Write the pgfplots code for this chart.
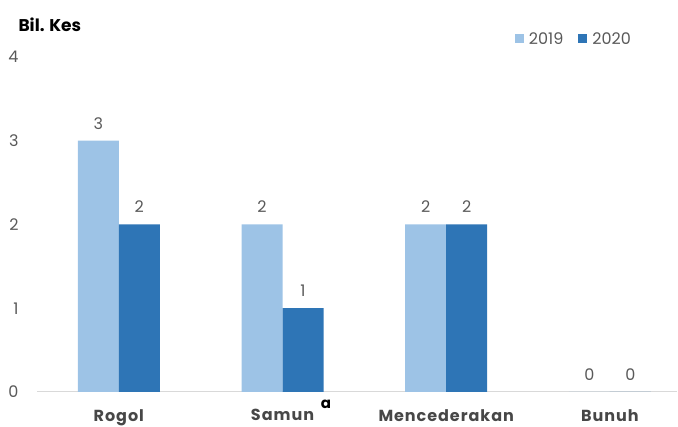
\documentclass[border=0pt]{standalone}
\usepackage{pgfplots}
\pgfplotsset{compat=1.18}
\usepackage{fontspec}
\setmainfont{Poppins}
\definecolor{c19}{HTML}{9DC3E6}
\definecolor{c20}{HTML}{2E75B6}
\definecolor{tgray}{HTML}{595959}
\definecolor{lgray}{HTML}{D9D9D9}
\begin{document}
\begin{tikzpicture}[x=1pt,y=1pt]
\useasboundingbox (0,0) rectangle (678,427);
\begin{axis}[
  at={(37pt,35pt)}, anchor=south west,
  scale only axis, width=640pt, height=335pt,
  ybar=0pt, bar width=41pt,
  xmin=-0.5, xmax=3.41, ymin=0, ymax=4,
  xtick=data, xticklabels={Rogol,Samun,Mencederakan,Bunuh},
  ytick={0,1,2,3,4},
  major tick length=0pt,
  axis x line*=bottom,
  x axis line style={draw=lgray, line width=1pt},
  y axis line style={draw=none},
  /pgf/number format/assume math mode=true,
  yticklabel style={font=\fontsize{16}{18}\selectfont, text=tgray, xshift=-15pt},
  xticklabel style={font=\fontsize{16}{18}\selectfont\bfseries\addfontfeature{LetterSpace=6}, text=tgray!80!black, inner sep=1pt, yshift=-16pt},
  nodes near coords,
  nodes near coords style={font=\fontsize{16}{18}\selectfont, text=tgray, yshift=8pt},
  legend style={at={(0.936,1.054)}, anchor=east, draw=none, fill=none,
    legend columns=2, font=\fontsize{16}{18}\selectfont, text=tgray,
    /tikz/every odd column/.append style={column sep=3pt},
    /tikz/every even column/.append style={column sep=13pt}},
  legend image code/.code={\fill[#1] (0pt,-4.5pt) rectangle (9pt,4.5pt);},
]
\addplot[draw=none, fill=c19] coordinates {(0,3) (1,2) (2,2) (3,0)};
\addlegendentry{2019}
\addplot[draw=none, fill=c20] coordinates {(0,2) (1,1) (2,2) (3,0)};
\addlegendentry{2020}
\end{axis}
\node[anchor=west, font=\fontsize{17}{19}\selectfont\bfseries] at (15,402) {Bil. Kes};
\node[font=\fontsize{15}{17}\selectfont\bfseries] at (326,23) {a};
\end{tikzpicture}
\end{document}
